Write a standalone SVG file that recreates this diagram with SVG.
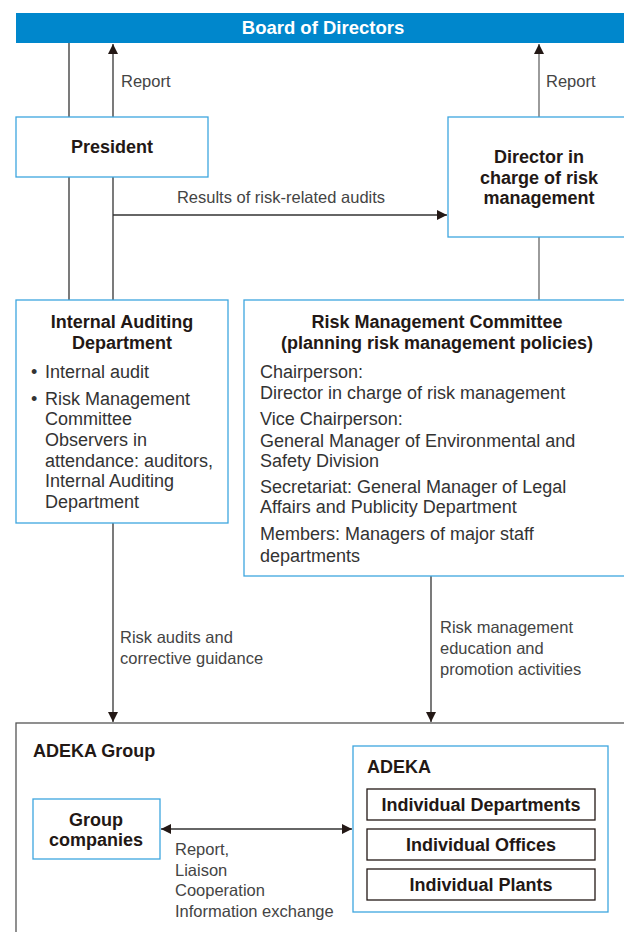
<svg xmlns="http://www.w3.org/2000/svg" width="624" height="932" viewBox="0 0 624 932">
<defs>
<style>
.box{fill:#fff;stroke:#3ea6df;stroke-width:1.3}
.ibox{fill:#fff;stroke:#231815;stroke-width:1.3}
.b{font-family:"Liberation Sans",Arial,sans-serif;font-weight:bold;font-size:18px;fill:#231815}
.t{font-family:"Liberation Sans",Arial,sans-serif;font-size:18px;fill:#333}
.l{font-family:"Liberation Sans",Arial,sans-serif;font-size:16.5px;fill:#444}
.c{text-anchor:middle}
.ln{fill:none;stroke:#333;stroke-width:1.3}
</style>
<marker id="ah" viewBox="0 0 10 10" refX="10" refY="5" markerWidth="10" markerHeight="10" markerUnits="userSpaceOnUse" orient="auto-start-reverse">
<path d="M0,0 L10,5 L0,10 Z" fill="#231815"/>
</marker>
</defs>
<rect width="624" height="932" fill="#fff"/>

<g id="connectors">
<line class="ln" x1="69" y1="43" x2="69" y2="300"/>
<line class="ln" x1="113" y1="117" x2="113" y2="44" marker-end="url(#ah)"/>
<line class="ln" x1="113" y1="177" x2="113" y2="300"/>
<line class="ln" x1="113" y1="215" x2="447" y2="215" marker-end="url(#ah)"/>
<line class="ln" x1="539" y1="117" x2="539" y2="44" marker-end="url(#ah)" style="stroke:#666"/>
<line class="ln" x1="539" y1="237" x2="539" y2="300" style="stroke:#666"/>
<line class="ln" x1="113" y1="523" x2="113" y2="722" marker-end="url(#ah)"/>
<line class="ln" x1="431" y1="576" x2="431" y2="722" marker-end="url(#ah)"/>
<line class="ln" x1="161" y1="829" x2="352" y2="829" marker-start="url(#ah)" marker-end="url(#ah)"/>
<text class="l" x="121" y="87">Report</text>
<text class="l" x="546" y="87">Report</text>
<text class="l" x="281" y="203" text-anchor="middle">Results of risk-related audits</text>
<text class="l" x="120" y="643">Risk audits and</text>
<text class="l" x="120" y="664">corrective guidance</text>
<text class="l" x="440" y="633">Risk management</text>
<text class="l" x="440" y="654">education and</text>
<text class="l" x="440" y="675">promotion activities</text>
<text class="l" x="175" y="855">Report,</text>
<text class="l" x="175" y="876">Liaison</text>
<text class="l" x="175" y="896">Cooperation</text>
<text class="l" x="175" y="917">Information exchange</text>
</g>

<g id="board">
<rect x="16" y="13" width="620" height="30" fill="#0087cc"/>
<text class="b c" x="323" y="34" style="fill:#fff;font-size:18.5px">Board of Directors</text>
</g>

<g id="president">
<rect class="box" x="16" y="117" width="192" height="60"/>
<text class="b c" x="112" y="153">President</text>
</g>

<g id="director">
<rect class="box" x="448" y="117" width="190" height="120"/>
<text class="b c" x="539" y="163">Director in</text>
<text class="b c" x="539" y="184">charge of risk</text>
<text class="b c" x="539" y="204">management</text>
</g>

<g id="internal-auditing">
<rect class="box" x="16" y="300" width="212" height="223"/>
<text class="b c" x="122" y="328">Internal Auditing</text>
<text class="b c" x="122" y="349">Department</text>
<text class="t" x="31" y="378">•</text>
<text class="t" x="45" y="378">Internal audit</text>
<text class="t" x="31" y="405">•</text>
<text class="t" x="45" y="405">Risk Management</text>
<text class="t" x="45" y="425">Committee</text>
<text class="t" x="45" y="446">Observers in</text>
<text class="t" x="45" y="467">attendance: auditors,</text>
<text class="t" x="45" y="487">Internal Auditing</text>
<text class="t" x="45" y="508">Department</text>
</g>

<g id="risk-committee">
<rect class="box" x="244" y="300" width="394" height="276"/>
<text class="b c" x="437" y="328">Risk Management Committee</text>
<text class="b c" x="437" y="349">(planning risk management policies)</text>
<text class="t" x="260" y="378">Chairperson:</text>
<text class="t" x="260" y="399">Director in charge of risk management</text>
<text class="t" x="260" y="425">Vice Chairperson:</text>
<text class="t" x="260" y="447">General Manager of Environmental and</text>
<text class="t" x="260" y="467">Safety Division</text>
<text class="t" x="260" y="493">Secretariat: General Manager of Legal</text>
<text class="t" x="260" y="513">Affairs and Publicity Department</text>
<text class="t" x="260" y="540">Members: Managers of major staff</text>
<text class="t" x="260" y="562">departments</text>
</g>

<g id="adeka-group">
<rect x="16" y="723" width="620" height="220" fill="none" stroke="#555" stroke-width="1.3"/>
<text class="b" x="33" y="757">ADEKA Group</text>
</g>

<g id="group-companies">
<rect class="box" x="33" y="799" width="127" height="60"/>
<text class="b c" x="96" y="826">Group</text>
<text class="b c" x="96" y="846">companies</text>
</g>

<g id="adeka">
<rect class="box" x="353" y="746" width="255" height="166"/>
<text class="b" x="367" y="773">ADEKA</text>
</g>

<g id="individual-departments">
<rect class="ibox" x="367" y="789" width="228" height="31"/>
<text class="b c" x="481" y="811">Individual Departments</text>
</g>

<g id="individual-offices">
<rect class="ibox" x="367" y="829" width="228" height="31"/>
<text class="b c" x="481" y="851">Individual Offices</text>
</g>

<g id="individual-plants">
<rect class="ibox" x="367" y="869" width="228" height="31"/>
<text class="b c" x="481" y="891">Individual Plants</text>
</g>
</svg>
